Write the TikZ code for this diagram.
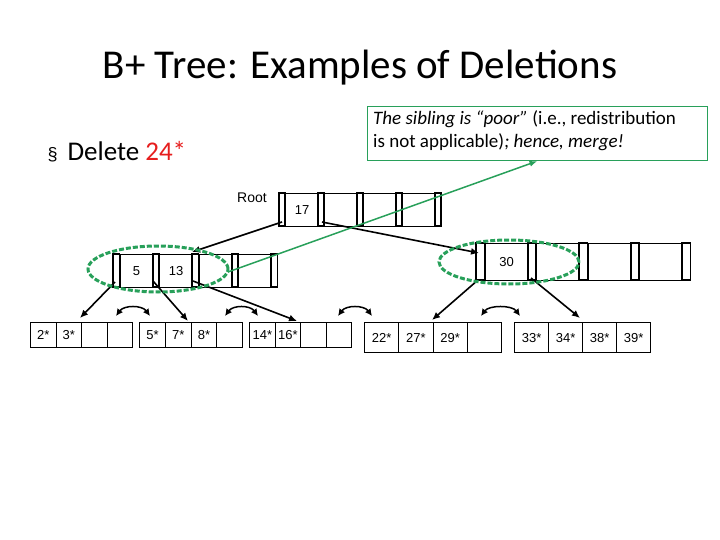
\documentclass[tikz,border=0pt]{standalone}
\usepackage{fontspec}
\setmainfont{Carlito}
\newfontfamily\arial{Liberation Sans}
\usetikzlibrary{arrows.meta}
\definecolor{gr}{RGB}{40,160,90}
\definecolor{rd}{RGB}{230,30,30}
\tikzset{
 cell/.style={draw,line width=1.2pt,minimum height=#1,inner sep=0pt,font=\arial\fontsize{13}{13}\selectfont},
 arr/.style={-{Latex[length=8pt,width=7pt]},line width=1.6pt},
 darr/.style={{Latex[length=7pt,width=7pt]}-{Latex[length=7pt,width=7pt]},line width=1.5pt},
 ell/.style={draw=gr,line width=3pt,dash pattern=on 5pt off 2pt},
}
\newcommand{\innernode}[8]{%
 \foreach \i/\k in {0/#7,1/#8,2/,3/}{%
  \draw[line width=1.2pt] ({#2+\i*(#4+#5)},{#3}) rectangle ++(#5,#6);
  \node[cell=#6pt,minimum width=#4pt,anchor=north west] (#1k\i) at ({#2+#5+\i*(#4+#5)},{#3}) {\k};
 }
 \draw[line width=1.2pt] ({#2+4*(#4+#5)},{#3}) rectangle ++(#5,#6);
}
\newcommand{\leaf}[8]{%
 \foreach \i/\k in {0/#6,1/#7,2/#8,3/}{%
  \node[cell=#5pt,minimum width=#4pt,anchor=north west] (#1c\i) at ({#2+\i*#4},{#3}) {\k};
 }
}
\begin{document}
\begin{tikzpicture}[x=1pt,y=-1pt]
\useasboundingbox (0,0) rectangle (720,540);
\node[font=\fontsize{41}{41}\selectfont] (title) at (360,68) {B+ Tree: Examples of Deletions};
\node[anchor=west,font=\fontsize{27}{27}\selectfont] (bul) at (44,152) {\fontsize{18}{18}\selectfont\arial§\hspace{10pt}\fontsize{27}{27}\selectfont\rmfamily Delete \textcolor{rd}{24*}};
\node[draw=gr,line width=1pt,anchor=north west,minimum width=340pt,minimum height=54pt,inner sep=5pt] (call) at (367,106) {};
\node[anchor=north west,align=left,font=\fontsize{19}{23}\selectfont,inner sep=0pt] (calltxt) at (373,110) {\textit{The sibling is “poor”} (i.e., redistribution\\is not applicable)\textit{; hence, merge!}};
\node[font=\arial\fontsize{14}{14}\selectfont] (root) at (252,198) {Root};
\innernode{r}{279}{193}{33}{6}{33}{17}{}
\innernode{li}{113}{254}{33}{6.5}{33}{5}{13}
\innernode{ri}{476}{243}{43}{8.5}{37}{30}{}
\leaf{la}{30}{322}{25.5}{25}{2*}{3*}{}
\leaf{lb}{139}{322}{25.75}{25}{5*}{7*}{8*}
\leaf{lc}{249}{322}{25.5}{25}{14*}{16*}{}
\leaf{ld}{364}{322}{34.25}{30}{22*}{27*}{29*}
\leaf{le}{514}{322}{34}{30}{33*}{34*}{38*}
\node[font=\arial\fontsize{13}{13}\selectfont] (l39) at (lec3) {39*};
\coordinate (rp0) at (282,222); \coordinate (rp1) at (322,222);
\coordinate (lp0) at (115,282); \coordinate (lp1) at (153,281); \coordinate (lp2) at (193,281);
\coordinate (rq0) at (478,280); \coordinate (rq1) at (531,278);
\coordinate (ta) at (80,318); \coordinate (tb) at (188,321); \coordinate (tc) at (297,321);
\coordinate (td) at (432,320); \coordinate (te) at (580,318);
\coordinate (tli) at (192,252); \coordinate (tri) at (479,253);
\draw[arr] (rp0) -- (tli);
\draw[arr] (rp1) -- (tri);
\draw[arr] (lp0) -- (ta);
\draw[arr] (lp1) -- (tb);
\draw[arr] (lp2) -- (tc);
\draw[arr] (rq0) -- (td);
\draw[arr] (rq1) -- (te);
\foreach \a/\b in {116/150,225/258,338/372,481/520}{
 \draw[darr] (\a,316) .. controls (\a+8,305) and (\b-8,305) .. (\b,316);
}
\draw[ell] (158,269) ellipse (70pt and 23pt);
\draw[ell] (509,262) ellipse (70pt and 22pt);
\coordinate (gstart) at (228,272);
\draw[gr,line width=1.5pt,-{Latex[length=8pt,width=6pt]}] (gstart) -- (call.south);
\end{tikzpicture}
\end{document}
